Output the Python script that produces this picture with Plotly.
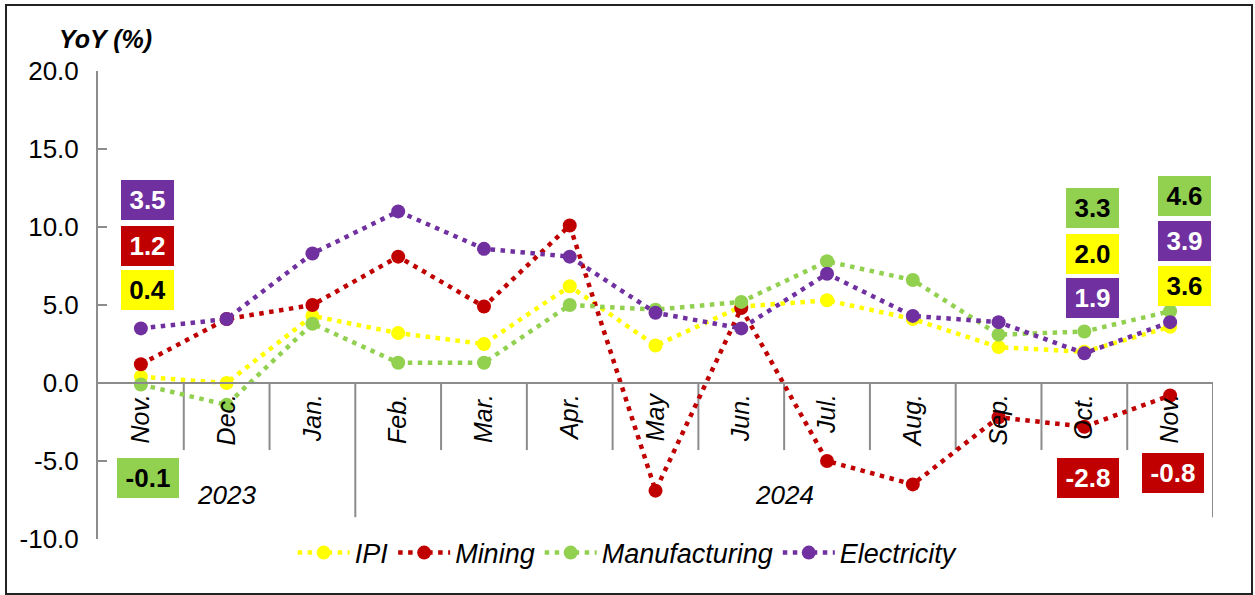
import plotly.graph_objects as go

# ---------------- data ----------------
months = ["Nov.", "Dec.", "Jan.", "Feb.", "Mar.", "Apr.", "May", "Jun.",
          "Jul.", "Aug.", "Sep.", "Oct.", "Nov."]
years = ["2023", "2024"]
y_ticks = [-10, -5, 0, 5, 10, 15, 20]
ipi = [0.4, 0.0, 4.3, 3.2, 2.5, 6.2, 2.4, 4.9, 5.3, 4.1, 2.3, 2.0, 3.6]
mining = [1.2, 4.1, 5.0, 8.1, 4.9, 10.1, -6.9, 4.8, -5.0, -6.5, -2.2, -2.8, -0.8]
manufacturing = [-0.1, -1.4, 3.8, 1.3, 1.3, 5.0, 4.7, 5.2, 7.8, 6.6, 3.1, 3.3, 4.6]
electricity = [3.5, 4.1, 8.3, 11.0, 8.6, 8.1, 4.5, 3.5, 7.0, 4.3, 3.9, 1.9, 3.9]

series = [
    ("IPI", ipi, "#FFFF00", "black"),
    ("Mining", mining, "#C00000", "white"),
    ("Manufacturing", manufacturing, "#92D050", "black"),
    ("Electricity", electricity, "#7030A0", "white"),
]

FONT = "Liberation Sans, Arial, sans-serif"
GRAY = "#8c8c8c"
x = list(range(len(months)))

fig = go.Figure()
for name, vals, col, _ in series:
    fig.add_trace(go.Scatter(
        x=x, y=vals, name=name, mode="lines+markers",
        line=dict(color=col, width=4.5, dash="4.5px,5.5px"),
        marker=dict(color=col, size=14),
        hoverinfo="skip",
    ))

# ---------------- value boxes ----------------
# (series index, point index, y centre in data units, x shift px)
box_pos = [
    (3, 0, 11.7, 7), (1, 0, 8.8, 7), (0, 0, 5.96, 7), (2, 0, -6.1, 7),
    (2, 11, 11.2, 8), (0, 11, 8.3, 8), (3, 11, 5.45, 8), (1, 11, -6.1, 4),
    (2, 12, 12.0, 14), (3, 12, 9.1, 14), (0, 12, 6.2, 14), (1, 12, -5.8, 3),
]
annotations = []
for si, pi, yc, xs in box_pos:
    name, vals, col, tcol = series[si]
    txt = f"{vals[pi]:.1f}"
    annotations.append(dict(
        x=pi, y=yc, xref="x", yref="y", text=f"<b>{txt}</b>", showarrow=False,
        xshift=xs, bgcolor=col, borderpad=4, borderwidth=0,
        width=45 if len(txt) == 3 else 54, height=32,
        font=dict(family=FONT, size=26, color=tcol),
    ))

# year group labels
annotations.append(dict(x=1, y=-7.2, xref="x", yref="y", text=years[0], showarrow=False,
                        font=dict(family=FONT, size=26, color="black", style="italic")))
annotations.append(dict(x=7.5, y=-7.2, xref="x", yref="y", text=years[1], showarrow=False,
                        font=dict(family=FONT, size=26, color="black", style="italic")))
# axis title
annotations.append(dict(x=0.0063, y=1.068, xref="paper", yref="paper", text="<b>YoY (%)</b>",
                        showarrow=False, xanchor="center", yanchor="middle",
                        font=dict(family=FONT, size=25, color="black", style="italic")))

# ---------------- category separators ----------------
shapes = []
for i in range(len(months)):
    b = i + 0.5
    long_line = (b == 2.5) or (b == len(months) - 0.5)
    shapes.append(dict(type="line", xref="x", yref="y", x0=b, x1=b, y0=0,
                       y1=-8.6 if long_line else -4.3,
                       line=dict(color=GRAY, width=2), layer="below"))
# outer border
shapes.append(dict(type="rect", xref="paper", yref="paper",
                   x0=-0.0825, x1=1.035, y0=-0.1175, y1=1.141,
                   line=dict(color="#222222", width=2), layer="below"))

fig.update_layout(
    width=1255, height=595,
    margin=dict(l=98, r=42, t=71, b=56),
    paper_bgcolor="white", plot_bgcolor="white",
    font=dict(family=FONT, color="black"),
    showlegend=True,
    legend=dict(orientation="h", x=0.475, xanchor="center", y=-0.03, yanchor="middle",
                itemwidth=52,
                font=dict(family=FONT, size=27, color="black", style="italic"),
                bgcolor="rgba(0,0,0,0)"),
    annotations=annotations,
    shapes=shapes,
    xaxis=dict(
        range=[-0.5, len(months) - 0.5], anchor="free", position=1 / 3,
        showline=True, linecolor=GRAY, linewidth=2,
        tickmode="array", tickvals=x, ticktext=months, ticks="",
        tickangle=-90, tickfont=dict(family=FONT, size=25, color="black", style="italic"),
        showgrid=False, zeroline=False,
    ),
    yaxis=dict(
        range=[-10, 20], tickmode="array", tickvals=y_ticks,
        ticktext=[f"{v:.1f}" for v in y_ticks],
        ticks="inside", ticklen=9, tickwidth=2, tickcolor=GRAY,
        showline=True, linecolor=GRAY, linewidth=2,
        showgrid=False, zeroline=False, ticklabelstandoff=12,
        tickfont=dict(family=FONT, size=26, color="black"),
    ),
)

fig.write_html("out.html")
